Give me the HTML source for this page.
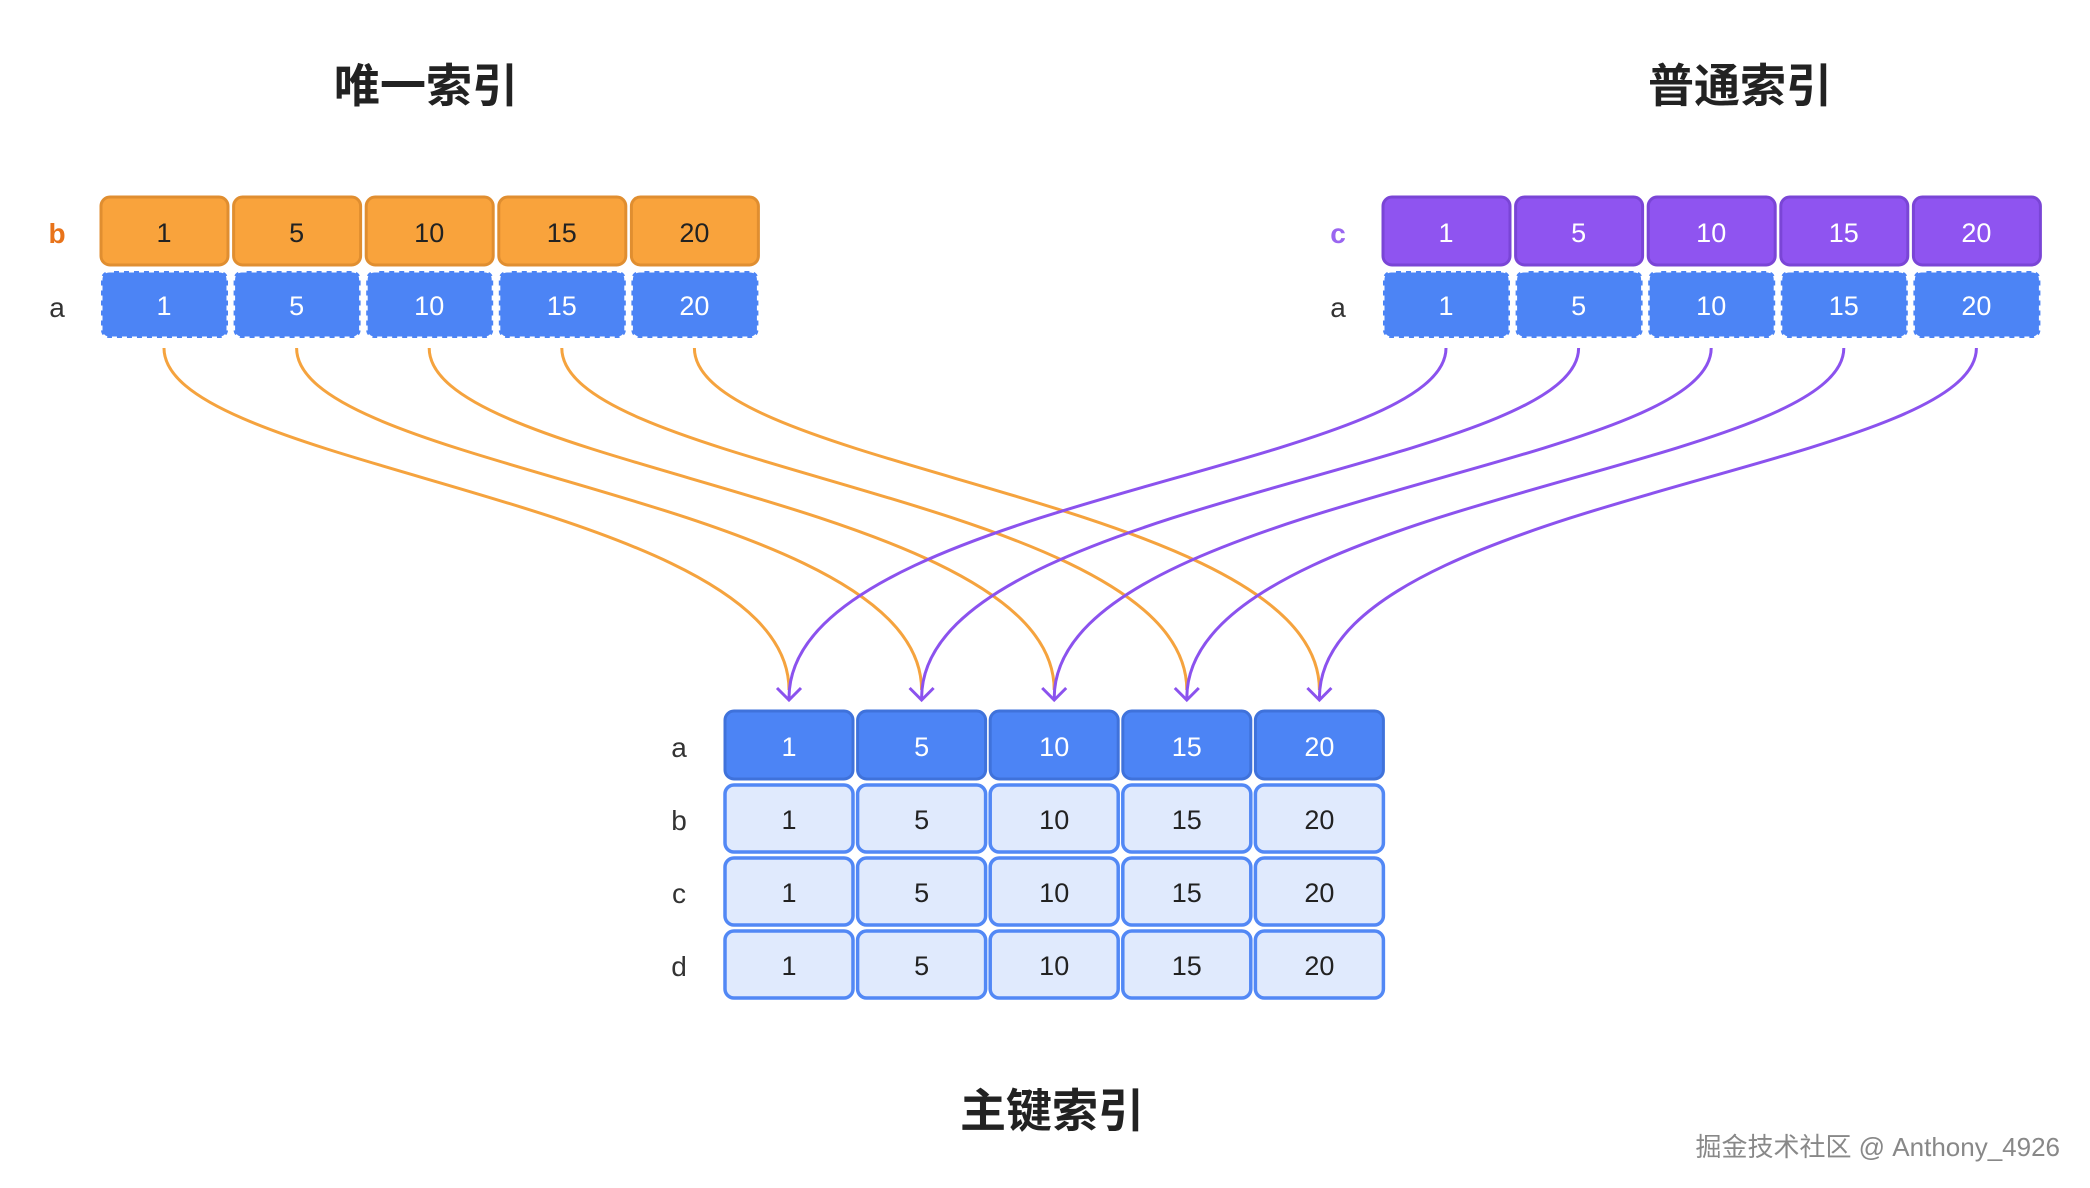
<!DOCTYPE html>
<html><head><meta charset="utf-8"><style>
html,body{margin:0;padding:0;background:#fff;}
svg{display:block;}
text{font-family:"Liberation Sans","Noto Sans CJK SC",sans-serif;}
</style></head><body>
<svg width="2090" height="1188" viewBox="0 0 2090 1188" xmlns="http://www.w3.org/2000/svg">
<!-- titles -->
<text x="426" y="102" font-size="46" font-weight="bold" text-anchor="middle" fill="#222">唯一索引</text>
<text x="1740" y="102" font-size="46" font-weight="bold" text-anchor="middle" fill="#222">普通索引</text>
<text x="1052" y="1127" font-size="46" font-weight="bold" text-anchor="middle" fill="#222">主键索引</text>
<text x="2060" y="1156" font-size="26" text-anchor="end" fill="#888">掘金技术社区 @ Anthony_4926</text>

<g fill="none" stroke-width="3">
<g stroke="#F5A33E">
<path d="M164 348 C164 470 789 500 789 690"/>
<path d="M296.6 348 C296.6 470 921.6 500 921.6 690"/>
<path d="M429.2 348 C429.2 470 1054.2 500 1054.2 690"/>
<path d="M561.8 348 C561.8 470 1186.8 500 1186.8 690"/>
<path d="M694.4 348 C694.4 470 1319.4 500 1319.4 690"/>
</g>
<g stroke="#8B52EE">
<path d="M1446 348 C1446 470 789 500 789 698"/>
<path d="M1578.6 348 C1578.6 470 921.6 500 921.6 698"/>
<path d="M1711.2 348 C1711.2 470 1054.2 500 1054.2 698"/>
<path d="M1843.8 348 C1843.8 470 1186.8 500 1186.8 698"/>
<path d="M1976.4 348 C1976.4 470 1319.4 500 1319.4 698"/>
<path d="M777 688 L789 700 L801 688"/>
<path d="M909.6 688 L921.6 700 L933.6 688"/>
<path d="M1042.2 688 L1054.2 700 L1066.2 688"/>
<path d="M1174.8 688 L1186.8 700 L1198.8 688"/>
<path d="M1307.4 688 L1319.4 700 L1331.4 688"/>
</g>
</g>

<!-- left index -->
<text x="57" y="243" font-size="28" font-weight="bold" text-anchor="middle" fill="#E8731A">b</text>
<text x="57" y="317" font-size="28" text-anchor="middle" fill="#333">a</text>
<g font-size="27" text-anchor="middle">
<g fill="#F9A33C" stroke="#E08E30" stroke-width="3">
<rect x="101" y="197" width="127" height="68" rx="9"/>
<rect x="233.6" y="197" width="127" height="68" rx="9"/>
<rect x="366.2" y="197" width="127" height="68" rx="9"/>
<rect x="498.8" y="197" width="127" height="68" rx="9"/>
<rect x="631.4" y="197" width="127" height="68" rx="9"/>
</g>
<g fill="#222"><text x="164" y="242">1</text><text x="296.6" y="242">5</text><text x="429.2" y="242">10</text><text x="561.8" y="242">15</text><text x="694.4" y="242">20</text></g>
<g fill="#4C84F5" stroke="#fff" stroke-width="3" stroke-dasharray="5 5">
<rect x="101" y="271" width="127" height="67" rx="8"/>
<rect x="233.6" y="271" width="127" height="67" rx="8"/>
<rect x="366.2" y="271" width="127" height="67" rx="8"/>
<rect x="498.8" y="271" width="127" height="67" rx="8"/>
<rect x="631.4" y="271" width="127" height="67" rx="8"/>
</g>
<g fill="#fff"><text x="164" y="315">1</text><text x="296.6" y="315">5</text><text x="429.2" y="315">10</text><text x="561.8" y="315">15</text><text x="694.4" y="315">20</text></g>
</g>

<!-- right index -->
<g transform="translate(-9,0)">
<text x="1347" y="243" font-size="28" font-weight="bold" text-anchor="middle" fill="#9A66F0">c</text>
<text x="1347" y="317" font-size="28" text-anchor="middle" fill="#333">a</text>
<g font-size="27" text-anchor="middle">
<g fill="#8F54F0" stroke="#7A45D6" stroke-width="3">
<rect x="1392" y="197" width="127" height="68" rx="9"/>
<rect x="1524.6" y="197" width="127" height="68" rx="9"/>
<rect x="1657.2" y="197" width="127" height="68" rx="9"/>
<rect x="1789.8" y="197" width="127" height="68" rx="9"/>
<rect x="1922.4" y="197" width="127" height="68" rx="9"/>
</g>
<g fill="#fff"><text x="1455" y="242">1</text><text x="1587.6" y="242">5</text><text x="1720.2" y="242">10</text><text x="1852.8" y="242">15</text><text x="1985.4" y="242">20</text></g>
<g fill="#4C84F5" stroke="#fff" stroke-width="3" stroke-dasharray="5 5">
<rect x="1392" y="271" width="127" height="67" rx="8"/>
<rect x="1524.6" y="271" width="127" height="67" rx="8"/>
<rect x="1657.2" y="271" width="127" height="67" rx="8"/>
<rect x="1789.8" y="271" width="127" height="67" rx="8"/>
<rect x="1922.4" y="271" width="127" height="67" rx="8"/>
</g>
<g fill="#fff"><text x="1455" y="315">1</text><text x="1587.6" y="315">5</text><text x="1720.2" y="315">10</text><text x="1852.8" y="315">15</text><text x="1985.4" y="315">20</text></g>
</g>
</g>

<!-- primary index -->
<g transform="translate(-4,0)">
<g font-size="28" text-anchor="middle" fill="#333">
<text x="683" y="757">a</text><text x="683" y="830">b</text><text x="683" y="903">c</text><text x="683" y="976">d</text>
</g>
<g font-size="27" text-anchor="middle">
<g fill="#4C84F5" stroke="#3F72DB" stroke-width="3">
<rect x="729" y="711" width="128" height="68" rx="9"/>
<rect x="861.6" y="711" width="128" height="68" rx="9"/>
<rect x="994.2" y="711" width="128" height="68" rx="9"/>
<rect x="1126.8" y="711" width="128" height="68" rx="9"/>
<rect x="1259.4" y="711" width="128" height="68" rx="9"/>
</g>
<g fill="#fff"><text x="793" y="756">1</text><text x="925.6" y="756">5</text><text x="1058.2" y="756">10</text><text x="1190.8" y="756">15</text><text x="1323.4" y="756">20</text></g>
<g fill="#E0EAFD" stroke="#5288F5" stroke-width="3.5">
<rect x="729" y="785" width="128" height="67" rx="9"/><rect x="861.6" y="785" width="128" height="67" rx="9"/><rect x="994.2" y="785" width="128" height="67" rx="9"/><rect x="1126.8" y="785" width="128" height="67" rx="9"/><rect x="1259.4" y="785" width="128" height="67" rx="9"/>
<rect x="729" y="858" width="128" height="67" rx="9"/><rect x="861.6" y="858" width="128" height="67" rx="9"/><rect x="994.2" y="858" width="128" height="67" rx="9"/><rect x="1126.8" y="858" width="128" height="67" rx="9"/><rect x="1259.4" y="858" width="128" height="67" rx="9"/>
<rect x="729" y="931" width="128" height="67" rx="9"/><rect x="861.6" y="931" width="128" height="67" rx="9"/><rect x="994.2" y="931" width="128" height="67" rx="9"/><rect x="1126.8" y="931" width="128" height="67" rx="9"/><rect x="1259.4" y="931" width="128" height="67" rx="9"/>
</g>
<g fill="#222">
<text x="793" y="829">1</text><text x="925.6" y="829">5</text><text x="1058.2" y="829">10</text><text x="1190.8" y="829">15</text><text x="1323.4" y="829">20</text>
<text x="793" y="902">1</text><text x="925.6" y="902">5</text><text x="1058.2" y="902">10</text><text x="1190.8" y="902">15</text><text x="1323.4" y="902">20</text>
<text x="793" y="975">1</text><text x="925.6" y="975">5</text><text x="1058.2" y="975">10</text><text x="1190.8" y="975">15</text><text x="1323.4" y="975">20</text>
</g>
</g>
</g>
</svg>
</body></html>
